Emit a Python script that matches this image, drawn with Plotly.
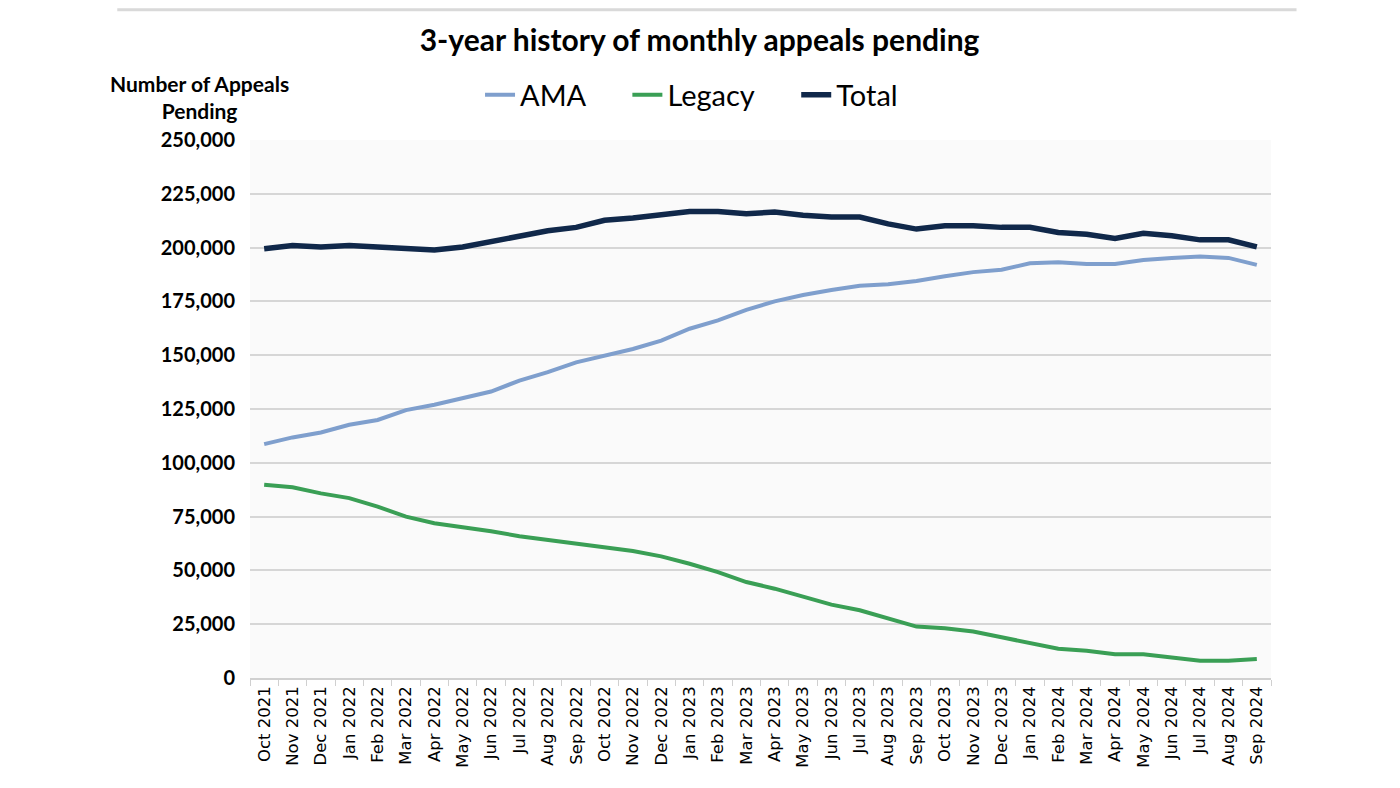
import plotly.graph_objects as go

# 月ラベル
months = [
    'Oct 2021', 'Nov 2021', 'Dec 2021', 'Jan 2022', 'Feb 2022', 'Mar 2022',
    'Apr 2022', 'May 2022', 'Jun 2022', 'Jul 2022', 'Aug 2022', 'Sep 2022',
    'Oct 2022', 'Nov 2022', 'Dec 2022', 'Jan 2023', 'Feb 2023', 'Mar 2023',
    'Apr 2023', 'May 2023', 'Jun 2023', 'Jul 2023', 'Aug 2023', 'Sep 2023',
    'Oct 2023', 'Nov 2023', 'Dec 2023', 'Jan 2024', 'Feb 2024', 'Mar 2024',
    'Apr 2024', 'May 2024', 'Jun 2024', 'Jul 2024', 'Aug 2024', 'Sep 2024',
]

ama = [
    108700, 111800, 114100, 117700, 119900, 124500, 127000, 130100, 133100,
    138200, 142100, 146700, 149800, 152900, 156800, 162300, 166200, 171100,
    175000, 178000, 180300, 182300, 183000, 184500, 186700, 188600, 189700,
    192700, 193200, 192400, 192400, 194200, 195200, 195900, 195200, 192000,
]

legacy = [
    89800, 88600, 85800, 83600, 79600, 75000, 71900, 70100, 68200,
    65900, 64200, 62300, 60500, 59000, 56500, 53100, 49200, 44600,
    41500, 37700, 34100, 31500, 27800, 23900, 23100, 21600, 18900,
    16100, 13600, 12700, 11000, 11000, 9600, 8000, 8000, 8800,
]

total = [
    199500, 201000, 200300, 201000, 200300, 199500, 198900, 200300, 203000,
    205500, 207800, 209400, 212700, 213800, 215400, 216800, 216800, 215700,
    216500, 215000, 214200, 214200, 211000, 208600, 210200, 210200, 209400,
    209400, 207000, 206200, 204300, 206700, 205500, 203600, 203600, 200300,
]

series_names = ['AMA', 'Legacy', 'Total']

# 凡例の間隔を広げるための空白
pad = '\u00a0' * 5
styles = [
    ('#7f9fcd', 4, pad),
    ('#3a9f55', 4, pad),
    ('#10284a', 5.5, ''),
]

fig = go.Figure()
for name, values, (color, width, tail) in zip(series_names, [ama, legacy, total], styles):
    fig.add_trace(go.Scatter(
        x=months,
        y=values,
        name=name + tail,
        mode='lines',
        line=dict(color=color, width=width),
    ))

# ページのbody余白(8px)を考慮してマージンを決める
fig.update_layout(
    width=1400,
    height=788,
    margin=dict(l=242, r=137, t=132, b=118),
    paper_bgcolor='white',
    plot_bgcolor='#fafafa',
    title=dict(
        text='<b>3-year history of monthly appeals pending</b>',
        x=0.494, xanchor='center',
        y=1 - 32 / 788, yanchor='middle',
        font=dict(family='Lato', size=30, color='black'),
    ),
    legend=dict(
        orientation='h',
        x=0.2253, xanchor='left',
        y=1.084, yanchor='middle',
        font=dict(family='Lato', size=29, color='black'),
        bgcolor='rgba(0,0,0,0)',
    ),
    xaxis=dict(
        type='category',
        range=[-0.5, len(months) - 0.5],
        tickangle=-90,
        tickfont=dict(family='DejaVu Sans', size=16.5, color='black'),
        showline=True,
        linecolor='#d0d0d0',
        linewidth=1.5,
        ticks='outside',
        tickson='boundaries',
        ticklen=6,
        tickcolor='#d0d0d0',
        showgrid=False,
    ),
    yaxis=dict(
        range=[0, 250000],
        dtick=25000,
        tickformat=',',
        tickfont=dict(family='Lato', size=20, color='black', weight='bold'),
        gridcolor='#d6d6d6',
        gridwidth=1.5,
        zeroline=False,
        ticklabelstandoff=14,
    ),
    annotations=[dict(
        text='<b>Number of Appeals<br>Pending</b>',
        xref='paper', yref='paper',
        x=-0.049, y=1.08,
        xanchor='center', yanchor='middle',
        showarrow=False,
        font=dict(family='Lato', size=21, color='black'),
    )],
    shapes=[dict(
        type='line', xref='paper', yref='paper',
        x0=-0.13, x1=1.025, y0=1.242, y1=1.242,
        line=dict(color='#d9d9d9', width=3),
    )],
)

fig.write_html('out.html')
